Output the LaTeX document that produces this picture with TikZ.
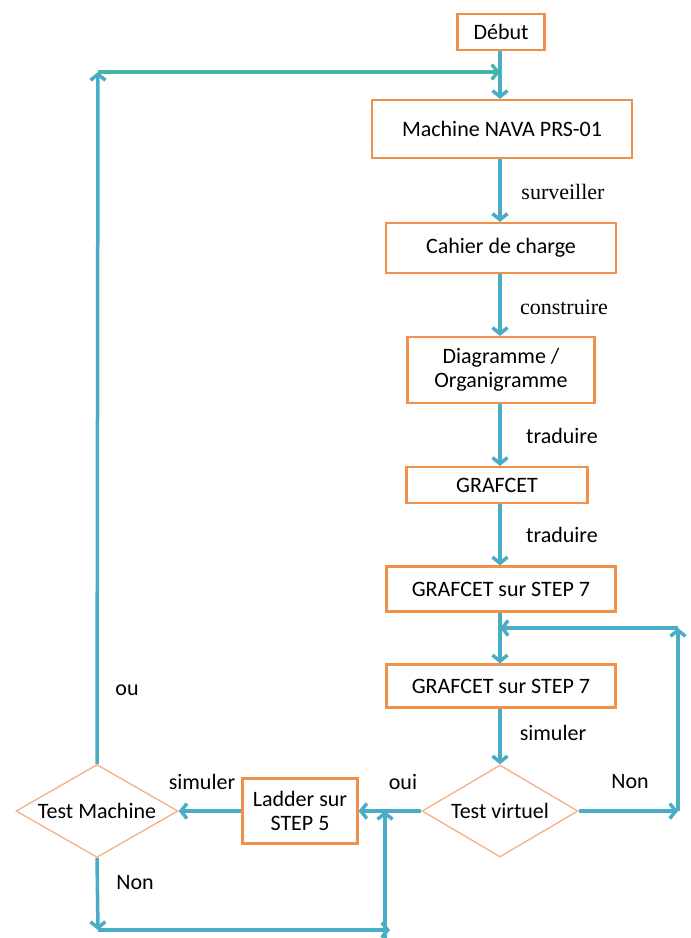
\documentclass[tikz,border=0pt]{standalone}
\usepackage{fontspec}
\setmainfont{Carlito}
\newfontfamily\serifa{Liberation Serif}
\usetikzlibrary{arrows.meta,shapes.geometric}
\definecolor{trait}{HTML}{4BACC6}
\definecolor{sarcelle}{HTML}{44B5AA}
\definecolor{cadre}{HTML}{F0904A}
\definecolor{losange}{HTML}{F5B48A}

\begin{document}
\begin{tikzpicture}[x=1pt,y=-1pt,
	every node/.style={font=\fontsize{22}{24}\selectfont},
	boite/.style={draw=cadre,line width=2.2pt,fill=white,inner sep=0pt,align=center},
	test/.style={diamond,draw=losange,line width=1.4pt,fill=white,inner sep=0pt,aspect=1.7},
	fleche/.style={draw=trait,line width=3.5pt,-{Straight Barb[length=6pt,width=15pt]}},
	ligne/.style={draw=trait,line width=3.5pt}]
		
		\useasboundingbox (0,0) rectangle (691,938);
		
		% colonne principale
		\node[boite,minimum width=87,minimum height=36] (debut) at (501,32) {Début};
		\node[boite,minimum width=260,minimum height=58] (machine) at (502,129) {Machine NAVA PRS-01};
		\node[boite,minimum width=230,minimum height=50] (cahier) at (501,248) {Cahier de charge};
		\node[boite,minimum width=187,minimum height=66] (diagramme) at (501,370) {Diagramme /\\Organigramme};
		\node[boite,minimum width=181,minimum height=36] (grafcet) at (497,485) {GRAFCET};
		\node[boite,minimum width=229,minimum height=45] (stepA) at (501,589) {GRAFCET sur STEP 7};
		\node[boite,minimum width=229,minimum height=43] (stepB) at (501,686) {GRAFCET sur STEP 7};
		\node[test,minimum width=156,minimum height=92] (virtuel) at (500,811) {Test virtuel};
		\node[boite,minimum width=115,minimum height=65] (ladder) at (300,811) {Ladder sur\\STEP 5};
		\node[test,minimum width=162,minimum height=93] (tmachine) at (97,811) {Test Machine};
		
		\coordinate (axe) at (500,0);
		\coordinate (hautG) at (98,72);
		\coordinate (hautD) at (500,72);
		\coordinate (coinD) at (678,811);
		\coordinate (coinH) at (678,628);
		\coordinate (retour) at (500,628);
		\coordinate (basG) at (98,930);
		\coordinate (basD) at (390,930);
		\coordinate (pied) at (385,938);
		\coordinate (jonction) at (385,811);
		
		\draw[fleche] (debut.south -| axe) -- (machine.north -| axe);
		\draw[fleche] (machine.south -| axe) -- (cahier.north -| axe);
		\draw[fleche] (cahier.south -| axe) -- (diagramme.north -| axe);
		\draw[fleche] (diagramme.south -| axe) -- (grafcet.north -| axe);
		\draw[fleche] (grafcet.south -| axe) -- (stepA.north -| axe);
		\draw[fleche] (stepA.south -| axe) -- (stepB.north -| axe);
		\draw[fleche] (stepB.south -| axe) -- (virtuel.north);
		
		% boucle de droite
		\draw[fleche] (virtuel.east) -- (coinD);
		\draw[fleche] (coinD) -- (coinH);
		\draw[fleche] (coinH) -- (retour);
		
		\draw[fleche] (virtuel.west) -- (ladder.east);
		\draw[fleche] (ladder.west) -- (tmachine.east);
		
		% boucle du bas
		\draw[fleche] (tmachine.south) -- (basG);
		\draw[fleche] (basG) -- (basD);
		\draw[fleche] (pied) -- (jonction);
		
		% retour en haut
		\draw[fleche] (tmachine.north) -- (hautG);
		\draw[fleche,draw=sarcelle] (hautG) -- (hautD);
		
		\node (l1) at (563,192) {\serifa surveiller};
		\node (l2) at (564,307) {\serifa construire};
		\node (l3) at (562,436) {traduire};
		\node (l4) at (562,535) {traduire};
		\node (l5) at (553,733) {simuler};
		\node (l6) at (630,782) {Non};
		\node (l7) at (403,782) {oui};
		\node (l8) at (202,782) {simuler};
		\node (l9) at (135,883) {Non};
		\node (l10) at (127,690) {ou};
		
\end{tikzpicture}
\end{document}
